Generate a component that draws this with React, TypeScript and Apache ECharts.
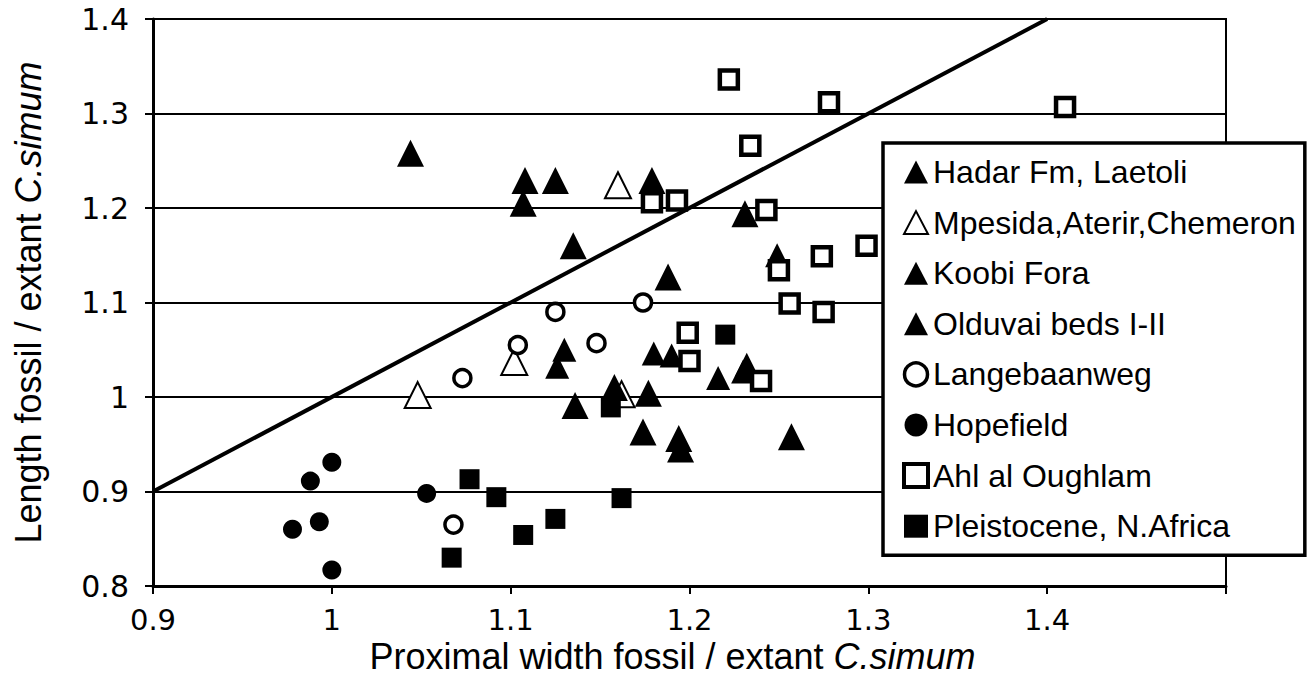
import React, { useEffect, useRef } from "react";
import * as echarts from "echarts";

// ---- data (x = proximal width ratio, y = length ratio) ----
const seriesNames = [
  "Hadar Fm, Laetoli",
  "Mpesida,Aterir,Chemeron",
  "Koobi Fora",
  "Olduvai beds I-II",
  "Langebaanweg",
  "Hopefield",
  "Ahl al Oughlam",
  "Pleistocene, N.Africa",
];

const hadarData = [
  [1.044, 1.258], [1.108, 1.229], [1.107, 1.205], [1.125, 1.229],
  [1.179, 1.229], [1.231, 1.194], [1.135, 1.160], [1.188, 1.127],
];
const mpesidaData = [
  [1.048, 1.002], [1.102, 1.037], [1.160, 1.224], [1.162, 1.003],
];
const koobiData = [
  [1.249, 1.150], [1.130, 1.050], [1.126, 1.032], [1.180, 1.046],
  [1.190, 1.044], [1.216, 1.020], [1.232, 1.034], [1.230, 1.027],
];
const olduvaiData = [
  [1.158, 1.010], [1.177, 1.004], [1.136, 0.991], [1.174, 0.963],
  [1.194, 0.956], [1.195, 0.945], [1.257, 0.958],
];
const langebaanwegData = [
  [1.104, 1.055], [1.073, 1.020], [1.068, 0.865], [1.125, 1.090],
  [1.174, 1.100], [1.148, 1.057],
];
const hopefieldData = [
  [1.000, 0.931], [0.988, 0.911], [1.053, 0.898], [0.993, 0.868],
  [0.978, 0.860], [1.000, 0.817],
];
const ahlData = [
  [1.222, 1.336], [1.278, 1.312], [1.410, 1.307], [1.234, 1.266],
  [1.179, 1.206], [1.193, 1.208], [1.243, 1.198], [1.250, 1.134],
  [1.274, 1.149], [1.299, 1.160], [1.256, 1.099], [1.275, 1.090],
  [1.199, 1.068], [1.200, 1.038], [1.240, 1.017],
];
const pleistoceneData = [
  [1.077, 0.913], [1.092, 0.894], [1.067, 0.830], [1.107, 0.854],
  [1.125, 0.871], [1.162, 0.893], [1.220, 1.066], [1.156, 0.989],
];
const equalityLine = [
  [0.9, 0.9], [1.4, 1.4],
];

const xTickLabels = ["0.9", "1", "1.1", "1.2", "1.3", "1.4", ""];
const yTickLabels = ["0.8", "0.9", "1", "1.1", "1.2", "1.3", "1.4"];

const xTitle = "Proximal width fossil / extant {i|C.simum}";
const yTitle = "Length fossil / extant {i|C.simum}";

const SANS = "'Liberation Sans', Arial, sans-serif";
const TICK_FONT = "'DejaVu Sans', sans-serif";

export default function App() {
  const ref = useRef<HTMLDivElement>(null);

  useEffect(() => {
    if (!ref.current) return;
    const chart = echarts.init(ref.current, undefined, { renderer: "svg" });

    const filled = { color: "#000", opacity: 1 };
    const hollowTri = { color: "#fff", borderColor: "#000", borderWidth: 2, opacity: 1 };
    const hollowCircle = { color: "#fff", borderColor: "#000", borderWidth: 3.5, opacity: 1 };
    const hollowSquare = { color: "#fff", borderColor: "#000", borderWidth: 4.5, opacity: 1 };

    const scatter = (name: string, data: number[][], symbol: string, size: number, itemStyle: any) => ({
      name,
      type: "scatter",
      data,
      symbol,
      symbolSize: size,
      itemStyle,
      emphasis: { disabled: true },
      z: 3,
    });

    const titleStyle = (pad: number[]) => ({
      fontFamily: SANS,
      fontSize: 36,
      color: "#000",
      padding: pad,
      rich: {
        i: { fontFamily: SANS, fontSize: 36, fontStyle: "italic", color: "#000" },
      },
    });

    // legend entries: same shapes as the series, with borders matching the marks
    const legendStyles: any[] = [
      filled,
      { color: "#fff", borderColor: "#000", borderWidth: 2 },
      filled,
      filled,
      { color: "#fff", borderColor: "#000", borderWidth: 3.5 },
      filled,
      { color: "#fff", borderColor: "#000", borderWidth: 4 },
      filled,
    ];
    const legendItems = seriesNames.map((name, i) => ({ name, itemStyle: legendStyles[i] }));

    chart.setOption({
      animation: false,
      backgroundColor: "#fff",
      grid: {
        left: 153,
        top: 19,
        right: 85,
        bottom: 102,
        show: true,
        borderColor: "#000",
        borderWidth: 2,
        backgroundColor: "transparent",
      },
      xAxis: {
        type: "value",
        min: 0.9,
        max: 1.5,
        interval: 0.1,
        name: xTitle,
        nameLocation: "middle",
        nameGap: 49,
        nameTextStyle: titleStyle([0, 34, 0, 0]),
        axisLine: { onZero: false, lineStyle: { color: "#000", width: 3 } },
        axisTick: { show: true, length: 8, lineStyle: { color: "#000", width: 2 } },
        axisLabel: {
          margin: 19,
          fontFamily: TICK_FONT,
          fontSize: 29,
          color: "#000",
          formatter: (_v: number, i: number) => xTickLabels[i] ?? "",
        },
        splitLine: { show: false },
      },
      yAxis: {
        type: "value",
        min: 0.8,
        max: 1.4,
        interval: 0.1,
        name: yTitle,
        nameLocation: "middle",
        nameGap: 107,
        nameTextStyle: titleStyle([0, 0, 0, 0]),
        axisLine: { onZero: false, lineStyle: { color: "#000", width: 3 } },
        axisTick: { show: true, length: 8, lineStyle: { color: "#000", width: 2 } },
        axisLabel: {
          margin: 24,
          fontFamily: TICK_FONT,
          fontSize: 30,
          color: "#000",
          formatter: (_v: number, i: number) => yTickLabels[i] ?? "",
        },
        splitLine: { show: true, lineStyle: { color: "#000", width: 2 } },
      },
      legend: {
        orient: "vertical",
        left: 883,
        top: 143,
        padding: [11, 9, 11, 19],
        itemWidth: 24,
        itemHeight: 23,
        itemGap: 14.6,
        backgroundColor: "#fff",
        borderColor: "#000",
        borderWidth: 3.5,
        selectedMode: false,
        textStyle: { fontFamily: SANS, fontSize: 32, color: "#000", lineHeight: 36 },
        data: legendItems,
        z: 10,
      },
      series: [
        {
          name: "equality",
          type: "line",
          data: equalityLine,
          showSymbol: false,
          symbol: "none",
          lineStyle: { color: "#000", width: 4 },
          silent: true,
          z: 2,
        },
        scatter(seriesNames[0], hadarData, "triangle", 27, filled),
        scatter(seriesNames[1], mpesidaData, "triangle", 26, hollowTri),
        scatter(seriesNames[2], koobiData, "triangle", 24, filled),
        scatter(seriesNames[3], olduvaiData, "triangle", 27, filled),
        scatter(seriesNames[4], langebaanwegData, "circle", 17, hollowCircle),
        scatter(seriesNames[5], hopefieldData, "circle", 19, filled),
        scatter(seriesNames[6], ahlData, "rect", 18, hollowSquare),
        scatter(seriesNames[7], pleistoceneData, "rect", 20, filled),
      ],
    });

    return () => chart.dispose();
  }, []);

  return (
    <div
      ref={ref}
      style={{ position: "absolute", left: 0, top: 0, width: 1311, height: 688 }}
    />
  );
}
